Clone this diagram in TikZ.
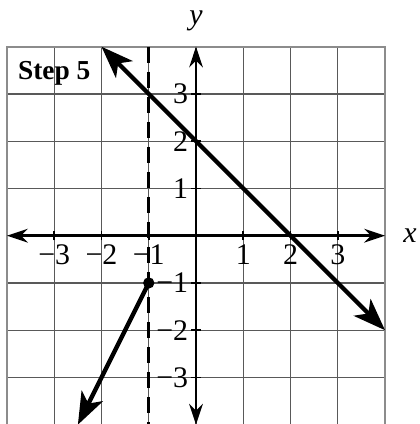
\documentclass[tikz,border=0pt]{standalone}
\usepackage{fontspec}
\setmainfont{Liberation Serif}
\usetikzlibrary{arrows.meta}
\tikzset{
  gridline/.style={draw=black!65, line width=0.75pt},
  gridborder/.style={draw=black!45, line width=1.2pt},
  axisline/.style={line width=1.6pt, {Stealth[length=4.4mm,width=2.9mm]}-{Stealth[length=4.4mm,width=2.9mm]}},
  graphline/.style={line width=2.6pt, {Stealth[length=6.8mm,width=5mm,inset=1.8mm]}-{Stealth[length=6.8mm,width=5mm,inset=1.8mm]}},
  rayline/.style={line width=2.6pt, -{Stealth[length=6.8mm,width=5mm,inset=1.8mm]}},
  asym/.style={line width=1.6pt, dash pattern=on 3.4mm off 1.9mm},
  ticklab/.style={font=\fontsize{18}{20}\selectfont, inner sep=0pt},
  axlab/.style={font=\fontsize{18}{20}\selectfont\itshape, inner sep=0pt},
  steplab/.style={font=\fontsize{16.5}{19}\selectfont\bfseries, inner sep=0pt},
}
\begin{document}
\begin{tikzpicture}
\useasboundingbox (-4.148,-3.985) rectangle (4.72,4.988);
% grid
\foreach \i in {-3,...,3} {
  \draw[gridline] (\i,-4) -- (\i,4);
  \draw[gridline] (-4,\i) -- (4,\i);
}
\draw[gridborder] (-4,-4) rectangle (4,4);
% dashed asymptote
\coordinate (dtop) at (-1,4);
\coordinate (dbot) at (-1,-4);
\draw[asym] (dtop) -- (dbot);
% axes
\coordinate (xl) at (-4,0);
\coordinate (xr) at (4,0);
\coordinate (yt) at (0,4);
\coordinate (yb) at (0,-4);
\draw[axisline] (xl) -- (xr);
\draw[axisline] (yb) -- (yt);
% ticks
\foreach \i in {-3,...,3} {
  \ifnum\i=0\else
  \draw[line width=1pt] (\i,-0.1) -- (\i,0.1);
  \draw[line width=1pt] (-0.1,\i) -- (0.1,\i);
  \fi
}
% tick labels
\foreach \i/\t in {-3/−3,-2/−2,-1/−1,1/1,2/2,3/3} {
  \node[ticklab, anchor=north] (xt\i) at (\i,-0.18) {\t};
}
\foreach \i/\t in {3/3,2/2,1/1} {
  \node[ticklab, anchor=east] (yt\i) at (-0.16,\i) {\t};
}
\foreach \i/\t in {-1/−1,-2/−2,-3/−3} {
  \node[ticklab, anchor=east] (yt\i) at (-0.16,\i) {\t};
}
\node[axlab] (xlab) at (4.53,0) {x};
\node[axlab] (ylab) at (0,4.55) {y};
\node[steplab] (step) at (-3.0,3.44) {Step 5};
% graph lines
\coordinate (a1) at (-2,4);
\coordinate (a2) at (4,-2);
\draw[graphline] (a1) -- (a2);
\coordinate (p) at (-1,-1);
\coordinate (q) at (-2.5,-4);
\draw[rayline] (p) -- (q);
\fill (p) circle (0.12);
\end{tikzpicture}
\end{document}
